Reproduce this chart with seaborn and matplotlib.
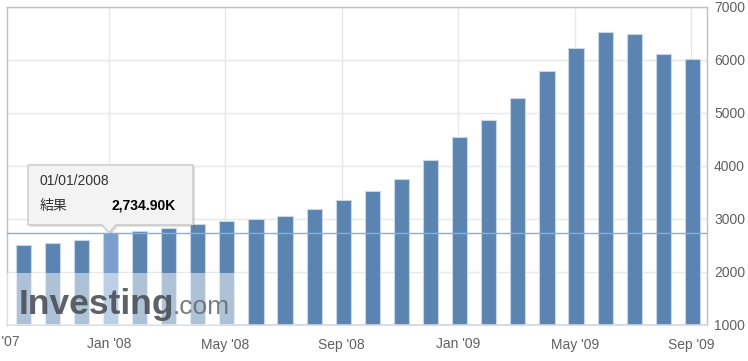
import matplotlib
matplotlib.use("Agg")
import matplotlib.pyplot as plt
import matplotlib.patches as mpatches
from matplotlib.transforms import IdentityTransform
import seaborn as sns
import pandas as pd

# monthly values (thousands), Oct 2007 - Sep 2009
months = ["Oct '07", "Nov '07", "Dec '07", "Jan '08", "Feb '08", "Mar '08", "Apr '08", "May '08",
          "Jun '08", "Jul '08", "Aug '08", "Sep '08", "Oct '08", "Nov '08", "Dec '08", "Jan '09",
          "Feb '09", "Mar '09", "Apr '09", "May '09", "Jun '09", "Jul '09", "Aug '09", "Sep '09"]
values = [2500, 2550, 2600, 2734.9, 2765, 2832, 2902, 2953,
          2996, 3047, 3185, 3354, 3518, 3750, 4101, 4535,
          4861, 5281, 5778, 6222, 6524, 6480, 6104, 6010]
tick_pos = [3, 7, 11, 15, 19, 23]
tick_labels = ["Jan '08", "May '08", "Sep '08", "Jan '09", "May '09", "Sep '09"]
y_ticks = [1000, 2000, 3000, 4000, 5000, 6000, 7000]
hover_idx = 3

df = pd.DataFrame({"month": months, "value": values})

sns.set_style("white")
plt.rcParams['font.family'] = ['Liberation Sans', 'Noto Sans CJK JP', 'DejaVu Sans']

fig = plt.figure(figsize=(7.48, 3.61), dpi=100)
ax = fig.add_axes([7 / 748, 36 / 361, 700 / 748, 318.5 / 361])

bar_color = "#5b84b0"
sns.barplot(data=df, x="month", y="value", order=months, color=bar_color,
            width=0.52, saturation=1, edgecolor="#c9d6e6", linewidth=0.8, ax=ax, zorder=2)
for i, p in enumerate(ax.patches):
    p.set_x(p.get_x() + 0.05)
    if i == hover_idx:
        p.set_facecolor("#7a9fca")

ax.set_xlim(-0.505, 23.55)
ax.set_ylim(1000, 7000)
ax.set_xlabel("")
ax.set_ylabel("")
ax.set_xticks(tick_pos)
ax.set_xticklabels(tick_labels)
ax.set_yticks(y_ticks)
ax.set_yticklabels([str(v) for v in y_ticks])
ax.yaxis.tick_right()
ax.tick_params(axis="both", length=0, labelsize=10, labelcolor="#606060")
ax.tick_params(axis="x", pad=9)
ax.tick_params(axis="y", pad=5)
ax.grid(True, color="#e8e8e8", linewidth=1)
ax.set_axisbelow(True)
for s in ["top", "left", "right"]:
    ax.spines[s].set_color("#c0c0c0")
    ax.spines[s].set_linewidth(1)
ax.spines["bottom"].set_color("#ccd6eb")
ax.spines["bottom"].set_linewidth(1.2)

# cut-off Sep '07 label
ax.text(-0.88, -0.03, "Sep '07", transform=ax.get_xaxis_transform(), ha="center", va="top",
        fontsize=10, color="#606060", clip_on=False)

# crosshair at hovered value
ax.axhline(values[hover_idx], color="#7fb0e0", linewidth=1, zorder=3)

# watermark
ax.add_patch(mpatches.Rectangle((0, 0), 0.327, 0.163, transform=ax.transAxes,
                                facecolor="white", alpha=0.5, edgecolor="none", zorder=4))
ax.text(0.016, 0.035, "Investing", transform=ax.transAxes, fontsize=25.5, fontweight="bold",
        color="#4b5057", alpha=0.9, ha="left", va="baseline", zorder=5)
ax.text(0.236, 0.035, ".com", transform=ax.transAxes, fontsize=19,
        color="#6a6e73", alpha=0.9, ha="left", va="baseline", zorder=5)

# tooltip anchored to hovered bar
fig.canvas.draw()
tx, ty = ax.transData.transform((hover_idx, values[hover_idx]))
def pt(dx, dy):
    return (tx + dx, ty - dy)
shape = [pt(-81, -68), pt(84, -68), pt(84, -8), pt(7, -8), pt(0, 0), pt(-7, -8), pt(-81, -8)]
shadow = mpatches.Polygon([(x + 2, y - 2) for x, y in shape], closed=True, transform=IdentityTransform(),
                          facecolor="#000000", alpha=0.12, edgecolor="none", zorder=10)
box = mpatches.Polygon(shape, closed=True, transform=IdentityTransform(),
                       facecolor="#f3f3f3", edgecolor="#c8c8c8", linewidth=1, zorder=11)
fig.add_artist(shadow)
fig.add_artist(box)
x0, y0 = pt(-69, -52)
fig.text(x0, y0, "01/01/2008", transform=IdentityTransform(), fontsize=10, color="#333333",
         ha="left", va="center", zorder=12)
x1, y1 = pt(-69, -27)
fig.text(x1, y1, "結果", transform=IdentityTransform(), fontsize=10, color="#333333",
         ha="left", va="center", zorder=12, family=['Noto Sans CJK JP', 'DejaVu Sans'])
x2, y2 = pt(67, -27)
fig.text(x2, y2, "{:,.2f}K".format(values[hover_idx]), transform=IdentityTransform(), fontsize=10,
         fontweight="bold", color="#000000", ha="right", va="center", zorder=12)

fig.savefig("out.png", dpi=100)
